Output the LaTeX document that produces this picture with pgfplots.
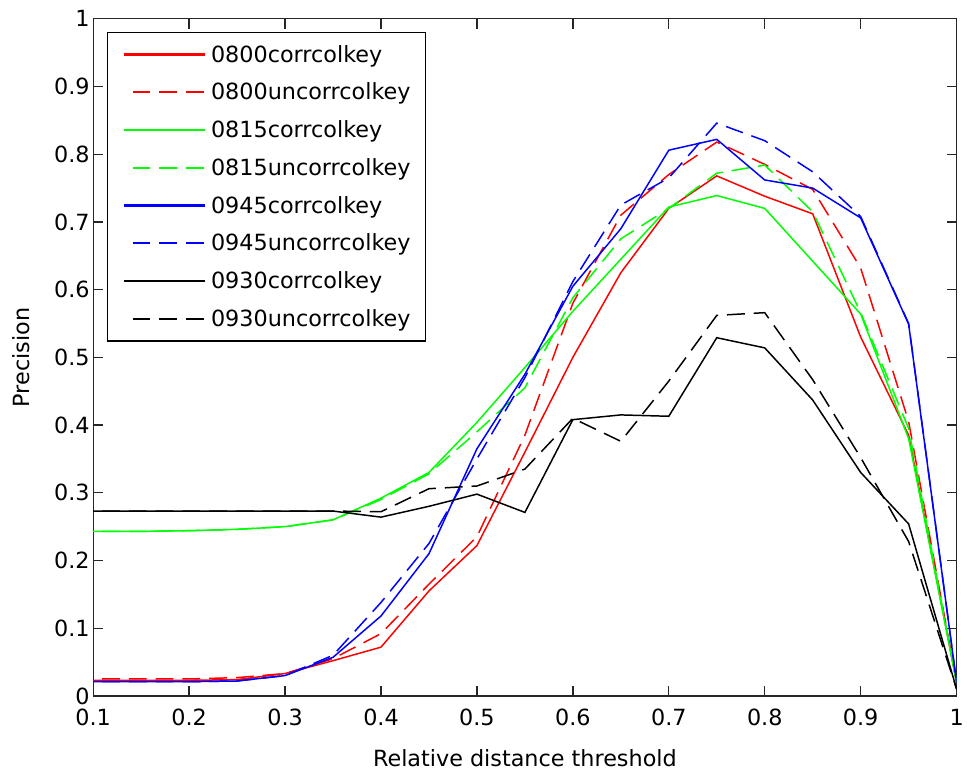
\documentclass[border=0pt]{standalone}
\usepackage{fontspec}
\setmainfont{DejaVu Sans}
\usepackage{pgfplots}
\usepackage{pgfplotstable}
\pgfplotsset{compat=1.18}

\pgfplotstableread{
x     ra     rb     ga     gb     ba     bb     ka     kb
0.10  0.023  0.025  0.243  0.243  0.021  0.021  0.273  0.273
0.15  0.023  0.025  0.243  0.243  0.021  0.021  0.273  0.273
0.20  0.023  0.025  0.244  0.244  0.021  0.021  0.273  0.273
0.25  0.024  0.027  0.246  0.246  0.022  0.022  0.273  0.273
0.30  0.033  0.033  0.250  0.250  0.030  0.030  0.273  0.273
0.35  0.052  0.055  0.260  0.260  0.057  0.060  0.273  0.273
0.40  0.072  0.092  0.292  0.290  0.118  0.138  0.264  0.272
0.45  0.155  0.165  0.330  0.328  0.210  0.225  0.280  0.306
0.50  0.222  0.235  0.404  0.390  0.365  0.350  0.298  0.310
0.55  0.360  0.385  0.485  0.455  0.475  0.470  0.271  0.335
0.60  0.500  0.580  0.568  0.588  0.605  0.612  0.408  0.410
0.65  0.625  0.710  0.645  0.675  0.690  0.725  0.415  0.376
0.70  0.720  0.770  0.722  0.720  0.806  0.765  0.413  0.465
0.75  0.768  0.818  0.739  0.772  0.822  0.846  0.529  0.562
0.80  0.738  0.785  0.720  0.784  0.762  0.820  0.514  0.566
0.85  0.712  0.748  0.642  0.715  0.750  0.774  0.437  0.467
0.90  0.530  0.632  0.564  0.566  0.706  0.708  0.330  0.352
0.95  0.385  0.405  0.380  0.395  0.549  0.550  0.254  0.228
1.00  0.020  0.020  0.020  0.020  0.020  0.020  0.010  0.010
}\data

\definecolor{mred}{RGB}{255,0,0}
\definecolor{mgreen}{RGB}{0,255,0}
\definecolor{mblue}{RGB}{0,0,255}
\definecolor{axgray}{RGB}{38,38,38}
\tikzset{
  solidln/.style={line width=1.5pt, solid},
  dashln/.style={line width=1.5pt, dash pattern=on 18pt off 9pt, dash phase=18pt},
}

\begin{document}
\begin{tikzpicture}
\path (-94pt,-69pt) rectangle (873pt,702pt);
\begin{axis}[
  at={(0,0)}, anchor=south west,
  scale only axis, width=871pt, height=683pt,
  xmin=0.1, xmax=1, ymin=0, ymax=1,
  xtick={0.1,0.2,0.3,0.4,0.5,0.6,0.7,0.8,0.9,1},
  ytick={0,0.1,0.2,0.3,0.4,0.5,0.6,0.7,0.8,0.9,1},
  tick align=inside, major tick length=10pt,
  axis line style={line width=1.3pt, draw=axgray},
  every tick/.style={line width=1.3pt, draw=axgray},
  tick label style={font=\fontsize{22.5}{24}\selectfont},
  xticklabel style={yshift=-10pt},
  /pgf/number format/assume math mode=true,
  label style={font=\fontsize{22.5}{24}\selectfont},
  xlabel={Relative distance threshold},
  ylabel={Precision},
  xlabel style={at={(axis description cs:0.5,-0.092)}, anchor=center},
  ylabel style={at={(axis description cs:-0.0838,0.5)}, anchor=center},
  legend cell align=left,
  legend style={at={(0.0161,0.981)}, anchor=north west,
    draw=black, line width=1.3pt, fill=white,
    font=\fontsize{22.5}{24}\selectfont,
    inner xsep=15pt, inner ysep=13pt, row sep=19.5pt, column sep=5pt,
    nodes={inner sep=0pt}},
  legend image code/.code={\draw[#1, line width=2.2pt] (0pt,0pt) -- (82pt,0pt);},
]
\addplot[mred, solidln] table[x=x,y=ra]{\data};
\addlegendentry{0800corrcolkey}
\addplot[mred, dashln] table[x=x,y=rb]{\data};
\addlegendentry{0800uncorrcolkey}
\addplot[mgreen, solidln] table[x=x,y=ga]{\data};
\addlegendentry{0815corrcolkey}
\addplot[mgreen, dashln] table[x=x,y=gb]{\data};
\addlegendentry{0815uncorrcolkey}
\addplot[mblue, solidln] table[x=x,y=ba]{\data};
\addlegendentry{0945corrcolkey}
\addplot[mblue, dashln] table[x=x,y=bb]{\data};
\addlegendentry{0945uncorrcolkey}
\addplot[black, solidln] table[x=x,y=ka]{\data};
\addlegendentry{0930corrcolkey}
\addplot[black, dashln] table[x=x,y=kb]{\data};
\addlegendentry{0930uncorrcolkey}
\end{axis}
\end{tikzpicture}
\end{document}
